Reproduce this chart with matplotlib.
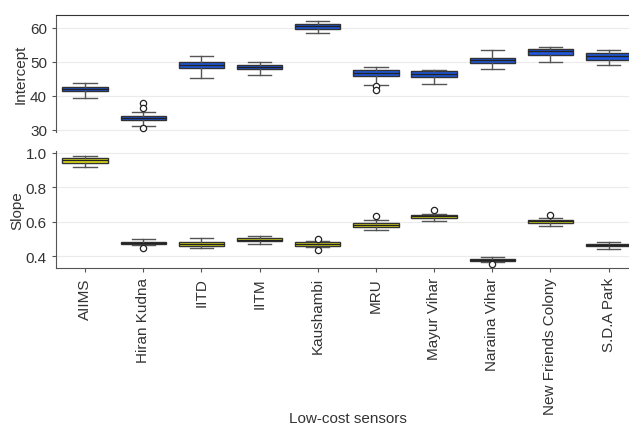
import matplotlib
matplotlib.use("Agg")
import matplotlib.pyplot as plt

plt.rcParams["font.family"] = ["Liberation Sans", "DejaVu Sans"]

sensors = ["AIIMS", "Hiran Kudna", "IITD", "IITM", "Kaushambi", "MRU",
           "Mayur Vihar", "Naraina Vihar", "New Friends Colony", "S.D.A Park"]

# intercept box stats
int_lo  = [39.5, 31.2, 45.4, 46.1, 58.4, 43.3, 43.4, 48.0, 50.1, 49.1]
int_q1  = [41.4, 32.9, 48.1, 47.8, 59.6, 45.8, 45.6, 49.7, 52.0, 50.7]
int_med = [42.0, 33.5, 49.2, 48.6, 60.5, 46.8, 46.5, 50.5, 53.1, 51.8]
int_q3  = [42.7, 34.2, 50.1, 49.2, 61.2, 47.6, 47.2, 51.3, 53.7, 52.6]
int_hi  = [43.9, 35.2, 51.7, 50.1, 62.1, 48.5, 47.7, 53.4, 54.5, 53.6]
int_out = [[], [38.0, 36.4, 30.7], [], [], [], [42.8, 41.7], [], [], [], []]

# slope box stats
sl_lo  = [0.916, 0.466, 0.449, 0.475, 0.454, 0.554, 0.608, 0.368, 0.577, 0.444]
sl_q1  = [0.943, 0.474, 0.460, 0.489, 0.462, 0.569, 0.624, 0.374, 0.596, 0.458]
sl_med = [0.957, 0.480, 0.472, 0.497, 0.472, 0.581, 0.632, 0.380, 0.606, 0.466]
sl_q3  = [0.969, 0.485, 0.484, 0.505, 0.485, 0.592, 0.639, 0.388, 0.614, 0.474]
sl_hi  = [0.982, 0.499, 0.505, 0.516, 0.490, 0.614, 0.645, 0.396, 0.622, 0.484]
sl_out = [[], [0.450], [], [], [0.499, 0.440], [0.637], [0.668], [0.357], [0.641], []]


def make_stats(lo, q1, med, q3, hi, out):
    stats = []
    for i in range(len(sensors)):
        stats.append({"whislo": lo[i], "q1": q1[i], "med": med[i], "q3": q3[i],
                      "whishi": hi[i], "fliers": out[i]})
    return stats


def draw_boxes(ax, stats, color):
    ax.bxp(stats, positions=range(len(sensors)), widths=0.78, capwidths=0.4,
           patch_artist=True, showfliers=True,
           boxprops=dict(facecolor=color, edgecolor="#333333", linewidth=1.0),
           medianprops=dict(color="#222222", linewidth=1.0),
           whiskerprops=dict(color="#555555", linewidth=1.0),
           capprops=dict(color="#555555", linewidth=1.0),
           flierprops=dict(marker="o", markerfacecolor="white", markeredgecolor="#222222",
                           markersize=4.5, markeredgewidth=0.9))


fig = plt.figure(figsize=(6.29, 4.27), dpi=100)
ax1 = fig.add_axes([0.089, 0.6885, 0.911, 0.274])
ax2 = fig.add_axes([0.089, 0.370, 0.911, 0.2747])

draw_boxes(ax1, make_stats(int_lo, int_q1, int_med, int_q3, int_hi, int_out), "#1f58dd")
draw_boxes(ax2, make_stats(sl_lo, sl_q1, sl_med, sl_q3, sl_hi, sl_out), "#e6e619")

for ax in (ax1, ax2):
    ax.set_xlim(-0.5, 9.35)
    ax.yaxis.grid(True, color="#ebebeb", linewidth=0.8)
    ax.set_axisbelow(True)
    ax.spines["right"].set_visible(False)
    ax.spines["left"].set_color("#555555")
    ax.tick_params(axis="y", colors="#555555", labelcolor="#333333", labelsize=11, length=3)

ax1.set_ylim(29.4, 63.8)
ax1.set_yticks([30, 40, 50, 60])
ax1.set_xticks([])
ax1.spines["bottom"].set_visible(False)
ax1.spines["top"].set_color("#333333")
ax1.set_ylabel("Intercept", fontsize=11, color="#333333")
ax1.yaxis.set_label_coords(-0.049, 0.5)

ax2.set_ylim(0.333, 1.013)
ax2.set_yticks([0.4, 0.6, 0.8, 1.0])
ax2.set_yticklabels(["0.4", "0.6", "0.8", "1.0"])
ax2.spines["top"].set_visible(False)
ax2.spines["bottom"].set_color("#555555")
ax2.set_xticks(range(len(sensors)))
ax2.set_xticklabels(sensors, rotation=90)
ax2.tick_params(axis="x", colors="#555555", labelcolor="#333333", labelsize=11, length=3)
ax2.set_ylabel("Slope", fontsize=11, color="#333333")
ax2.yaxis.set_label_coords(-0.056, 0.5)
ax2.set_xlabel("Low-cost sensors", fontsize=11, color="#333333")
ax2.xaxis.set_label_coords(0.51, -1.22)

fig.savefig("out.png", dpi=100)
